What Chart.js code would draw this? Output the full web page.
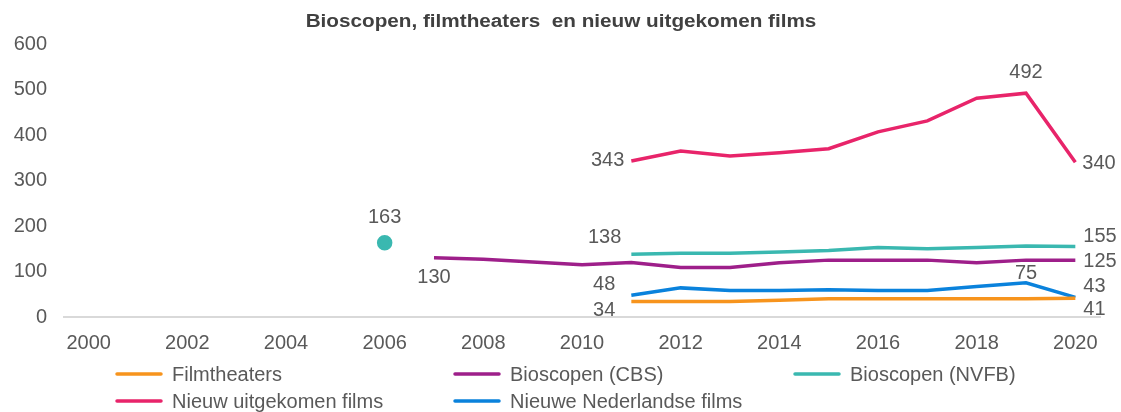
<!DOCTYPE html>
<html>
<head>
<meta charset="utf-8">
<script src="https://cdn.jsdelivr.net/npm/chart.js@4/dist/chart.umd.min.js"></script>
<style>
html,body{margin:0;padding:0;background:#fff;}
#wrap{position:relative;width:1121px;height:412px;}
</style>
</head>
<body>
<div id="wrap"><canvas id="c" width="1121" height="412"></canvas></div>
<script>
const titleText = 'Bioscopen, filmtheaters  en nieuw uitgekomen films';
const years = ['2000','2001','2002','2003','2004','2005','2006','2007','2008','2009','2010','2011','2012','2013','2014','2015','2016','2017','2018','2019','2020'];
const seriesNames = ['Filmtheaters','Bioscopen (CBS)','Bioscopen (NVFB)','Nieuw uitgekomen films','Nieuwe Nederlandse films'];
const filmtheaters = [null,null,null,null,null,null,null,null,null,null,null,34,34,34,37,40,40,40,40,40,41];
const bioscopenCBS = [null,null,null,null,null,null,null,130,127,121,115,120,109,109,119,125,125,125,119,125,125];
const bioscopenNVFB = [null,null,null,null,null,null,163,null,null,null,null,138,140,140,143,146,153,150,153,156,155];
const nieuweFilms = [null,null,null,null,null,null,null,null,null,null,null,343,365,354,361,370,407,431,481,492,340];
const nederlandseFilms = [null,null,null,null,null,null,null,null,null,null,null,48,64,58,58,60,58,58,67,75,43];
const yTicks = [0,100,200,300,400,500,600];

const colors = ['#F7941D','#9E1F8A','#3AB8B0','#E8246A','#0A82DC'];
const seriesData = [filmtheaters,bioscopenCBS,bioscopenNVFB,nieuweFilms,nederlandseFilms];

// data label placements: dataset, index, offset from point, alignment
const labelSpots = [
  {ds:3,i:11,dx:-7,dy:0,align:'right'},
  {ds:3,i:19,dx:0,dy:-21,align:'center'},
  {ds:3,i:20,dx:7,dy:1,align:'left'},
  {ds:2,i:6,dx:0,dy:-25,align:'center'},
  {ds:2,i:11,dx:-10,dy:-17,align:'right'},
  {ds:2,i:20,dx:8,dy:-10,align:'left'},
  {ds:1,i:7,dx:0,dy:20,align:'center'},
  {ds:1,i:20,dx:8,dy:1,align:'left'},
  {ds:4,i:11,dx:-16,dy:-11,align:'right'},
  {ds:4,i:19,dx:0,dy:-9,align:'center'},
  {ds:4,i:20,dx:8,dy:-11,align:'left'},
  {ds:0,i:11,dx:-16,dy:9,align:'right'},
  {ds:0,i:20,dx:8,dy:11,align:'left'}
];

const FONT = '"Liberation Sans", Arial, sans-serif';

const overlay = {
  id:'overlay',
  afterDraw(chart){
    const ctx = chart.ctx;
    ctx.save();
    // title (slightly widened to match the reference)
    ctx.save();
    ctx.fillStyle = '#404040';
    ctx.font = 'bold 18px ' + FONT;
    ctx.textAlign = 'center';
    ctx.textBaseline = 'middle';
    ctx.translate(561, 22);
    ctx.scale(1.15, 1);
    ctx.fillText(titleText, 0, 0);
    ctx.restore();
    // data labels
    ctx.font = '20px ' + FONT;
    ctx.fillStyle = '#595959';
    labelSpots.forEach(s => {
      const el = chart.getDatasetMeta(s.ds).data[s.i];
      const v = chart.data.datasets[s.ds].data[s.i];
      ctx.textAlign = s.align;
      ctx.textBaseline = 'middle';
      ctx.fillText(String(v), el.x + s.dx, el.y + s.dy);
    });
    // legend grid
    const cols = [117, 455, 795];
    const rows = [374, 401];
    ctx.font = '20px ' + FONT;
    ctx.textAlign = 'left';
    chart.data.datasets.forEach((d, k) => {
      const x = cols[k % 3], y = rows[Math.floor(k / 3)];
      ctx.strokeStyle = d.borderColor;
      ctx.lineWidth = 3.5;
      ctx.lineCap = 'round';
      ctx.beginPath();
      ctx.moveTo(x, y);
      ctx.lineTo(x + 44, y);
      ctx.stroke();
      ctx.fillStyle = '#595959';
      ctx.fillText(d.label, x + 55, y + 1);
    });
    ctx.restore();
  }
};

new Chart(document.getElementById('c'), {
  type:'line',
  data:{
    labels: years,
    datasets: seriesNames.map((n, k) => ({
      label: n,
      data: seriesData[k],
      borderColor: colors[k],
      backgroundColor: colors[k],
      borderWidth: 3.5,
      pointRadius: seriesData[k].map((v, i) => (k === 2 && i === 6) ? 6 : 0),
      pointHoverRadius: 0,
      tension: 0,
      spanGaps: false,
      fill: false
    }))
  },
  options:{
    responsive:false,
    animation:false,
    events:[],
    layout:{padding:{top:44,right:21,left:0,bottom:0}},
    plugins:{legend:{display:false},title:{display:false},tooltip:{enabled:false}},
    scales:{
      x:{
        type:'category',
        offset:true,
        grid:{display:false,drawTicks:false},
        border:{display:true,color:'#D9D9D9',width:2},
        ticks:{
          autoSkip:false,maxRotation:0,padding:14,color:'#595959',
          font:{family:FONT,size:20},
          callback:function(val, idx){ return idx % 2 === 0 ? this.getLabelForValue(val) : ''; }
        },
        afterFit(scale){ scale.height = 95; }
      },
      y:{
        min:0,max:600,
        afterBuildTicks(scale){ scale.ticks = yTicks.map(v => ({value:v})); },
        grid:{display:false,drawTicks:false},
        border:{display:false},
        ticks:{padding:17,color:'#595959',font:{family:FONT,size:20}},
        afterFit(scale){ scale.width = 64; }
      }
    }
  },
  plugins:[overlay]
});
</script>
</body>
</html>
